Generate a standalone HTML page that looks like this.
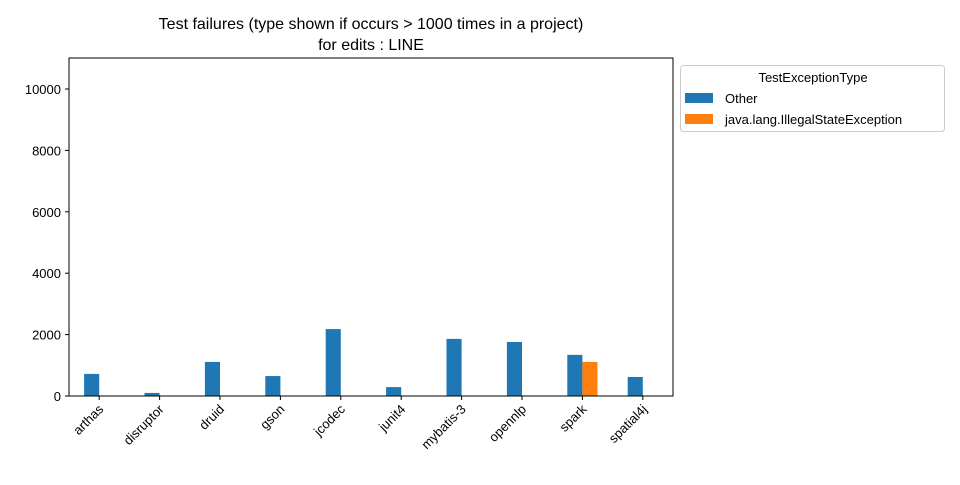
<!DOCTYPE html>
<html><head><meta charset="utf-8"><style>
body{margin:0;background:#fff;}
svg text{font-family:"Liberation Sans",sans-serif;fill:#000;}
</style></head><body>
<svg id="chart" width="960" height="480" xmlns="http://www.w3.org/2000/svg">
<rect width="960" height="480" fill="#fff"/>
<text x="371" y="29" font-size="16" text-anchor="middle">Test failures (type shown if occurs &gt; 1000 times in a project)</text>
<text x="371" y="50" font-size="16" text-anchor="middle">for edits : LINE</text>
<g id="plot"></g>
<rect x="69" y="58" width="604" height="338" fill="none" stroke="#000" stroke-width="1"/>
<g>
<rect x="680.5" y="65.5" width="264" height="66" rx="3" fill="#fff" stroke="#ccc"/>
<text x="813" y="82" font-size="13" text-anchor="middle">TestExceptionType</text>
<g><rect x="685" y="93" width="28" height="10" fill="#1f77b4"/><text x="725" y="103" font-size="13">Other</text></g>
<g><rect x="685" y="114" width="28" height="10" fill="#ff7f0e"/><text x="725" y="124" font-size="13">java.lang.IllegalStateException</text></g>
</g>
</svg>
<script>
const categories=["arthas","disruptor","druid","gson","jcodec","junit4","mybatis-3","opennlp","spark","spatial4j"];
const otherValues=[720,100,1110,650,2180,290,1860,1760,1340,620];
const illegalStateValues=[0,0,0,0,0,0,0,0,1110,0];
const yTicks=[0,2000,4000,6000,8000,10000];
const NS="http://www.w3.org/2000/svg";
const g=document.getElementById("plot");
const X0=69,X1=673,Y0=396,YT=58,YMAX=11010;
const step=(X1-X0)/categories.length;
const xc=i=>X0+step*(i+0.5);
const y=v=>Y0-(v/YMAX)*(Y0-YT);
const bw=step*0.25;
function mk(tag,attrs){const e=document.createElementNS(NS,tag);for(const k in attrs)e.setAttribute(k,attrs[k]);g.appendChild(e);return e;}
yTicks.forEach(t=>{
 const l=mk("line",{x1:X0-4,x2:X0,y1:y(t),y2:y(t),stroke:"#000"});
 
 
 const tx=mk("text",{x:X0-8,y:y(t)+5,"font-size":13,"text-anchor":"end"});
 tx.textContent=t;
 
 
});
categories.forEach((c,i)=>{
 const b1=mk("rect",{x:xc(i)-bw,y:y(otherValues[i]),width:bw,height:Y0-y(otherValues[i]),fill:"#1f77b4"});
 
 
 const b2=mk("rect",{x:xc(i),y:y(illegalStateValues[i]),width:bw,height:Y0-y(illegalStateValues[i]),fill:"#ff7f0e"});
 
 
 const tk=mk("line",{x1:xc(i),x2:xc(i),y1:Y0,y2:Y0+4,stroke:"#000"});
 
 
 const lx=xc(i)+5,ly=Y0+14;
 const tx=mk("text",{x:lx,y:ly,"font-size":13,"text-anchor":"end",transform:`rotate(-45 ${lx} ${ly})`});
 tx.textContent=c;
 
 
});
</script>
</body></html>
